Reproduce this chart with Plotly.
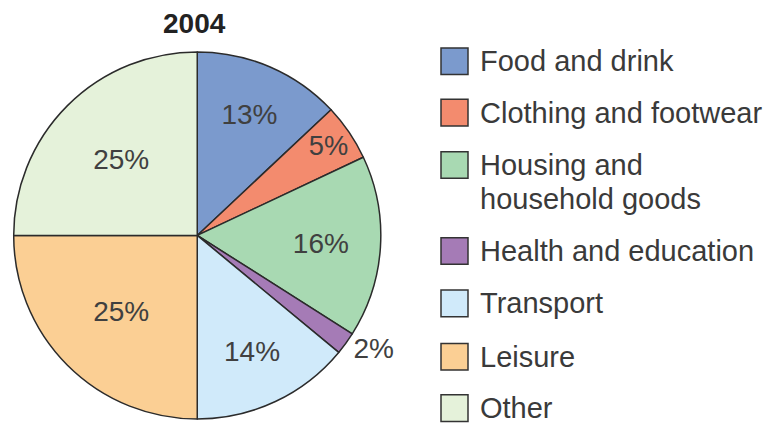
import plotly.graph_objects as go

title_text = "2004"
categories = ["Food and drink", "Clothing and footwear", "Housing and<br>household goods",
              "Health and education", "Transport", "Leisure", "Other"]
values = [13, 5, 16, 2, 14, 25, 25]
colors = ["#7b9acd", "#f38b6e", "#a8d9b2", "#a57bb6", "#d0eafa", "#fbcf94", "#e5f2da"]
text_positions = ["inside", "inside", "inside", "outside", "inside", "inside", "inside"]

FONT = "Liberation Sans, Arial, Helvetica, sans-serif"
W, H = 770, 424
fig = go.Figure()
fig.add_trace(go.Pie(
    values=values,
    labels=categories,
    sort=False,
    direction="clockwise",
    rotation=0,
    marker=dict(colors=colors, line=dict(color="#2b2b2b", width=1.5)),
    texttemplate="%{value}%",
    textposition=text_positions,
    insidetextorientation="horizontal",
    textfont=dict(family=FONT, size=28, color="#404040"),
    domain=dict(x=[11.5 / W, 383 / W], y=[0 / H, 371.5 / H]),
    showlegend=False,
    hoverinfo="label+value",
))

# legend drawn at the right, one row per category
legend_y = [62, 114, 167, 254, 307, 361, 413]
LINE_H = 34
shapes = []
annotations = []
for lab, col, yc in zip(categories, colors, legend_y):
    shapes.append(dict(type="rect", xref="paper", yref="paper",
                       x0=441 / W, x1=468 / W, y0=1 - (yc + 13.5) / H, y1=1 - (yc - 13.5) / H,
                       fillcolor=col, line=dict(color="#333333", width=1.5)))
    for i, line in enumerate(lab.split("<br>")):
        annotations.append(dict(xref="paper", yref="paper", x=478 / W, y=1 - (yc + i * LINE_H) / H,
                                xanchor="left", yanchor="middle", align="left", showarrow=False,
                                text=line, font=dict(family=FONT, size=29, color="#3a3a3a")))
annotations.append(dict(xref="paper", yref="paper", x=195 / W, y=1 - 24 / H,
                        xanchor="center", yanchor="middle", showarrow=False,
                        text="<b>" + title_text + "</b>",
                        font=dict(family=FONT, size=28, color="#222222")))

fig.update_layout(width=W, height=H, margin=dict(l=0, r=0, t=0, b=0),
                  paper_bgcolor="white", plot_bgcolor="white",
                  shapes=shapes, annotations=annotations)
fig.write_html("out.html", config={"displayModeBar": False},
               post_script="document.body.style.margin='0px';")
